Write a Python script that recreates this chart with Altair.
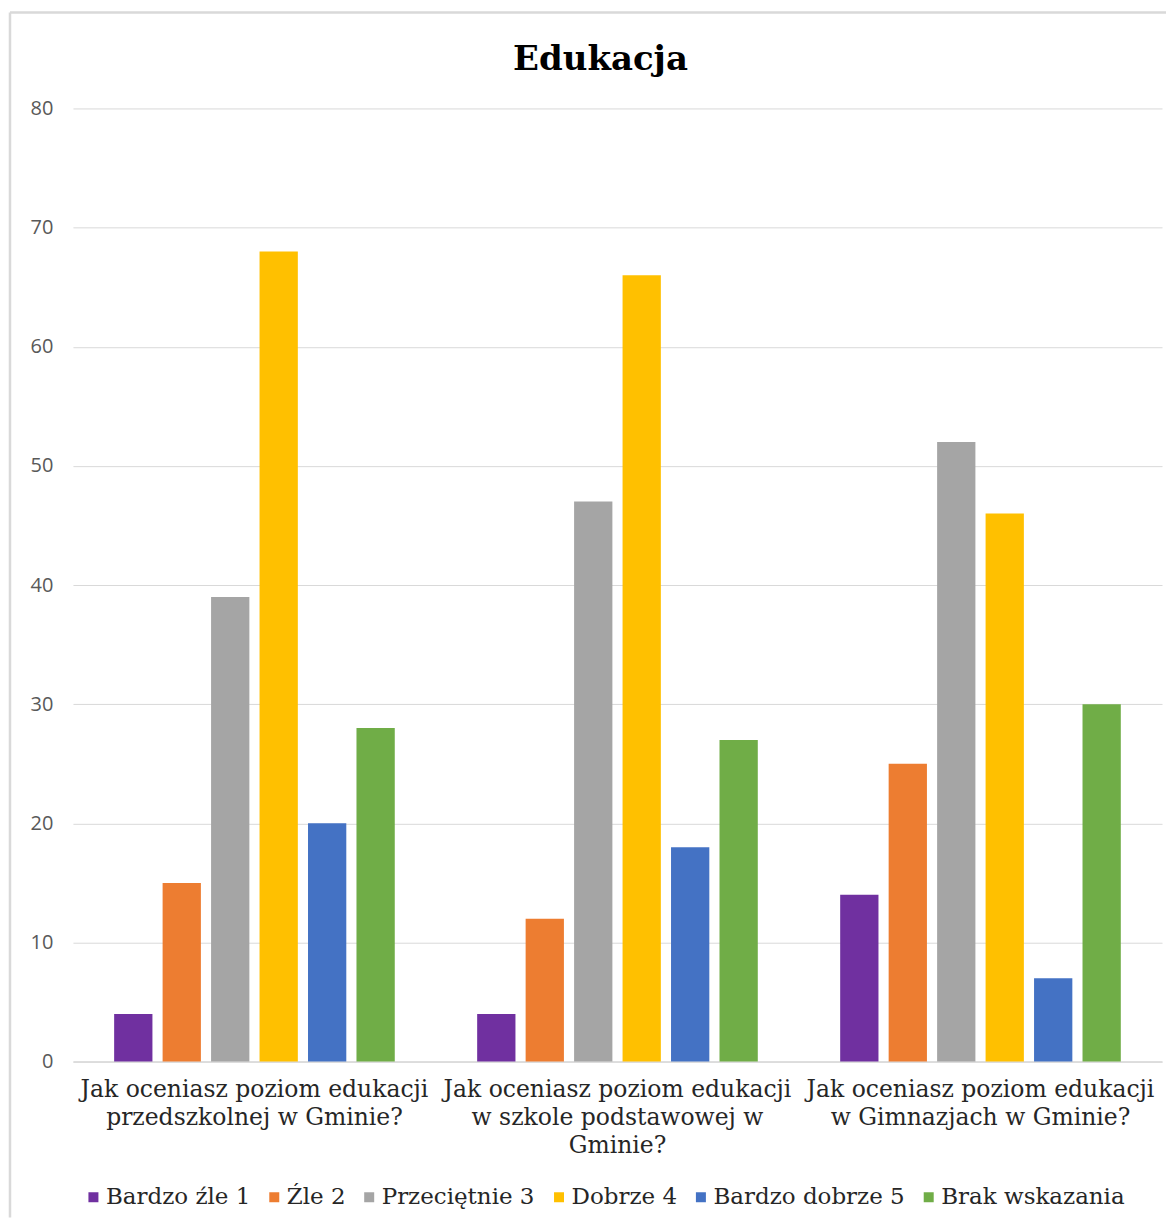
import altair as alt
import pandas as pd

title = "Edukacja"
category_lines = [
    ["Jak oceniasz poziom edukacji", "przedszkolnej w Gminie?"],
    ["Jak oceniasz poziom edukacji", "w szkole podstawowej w", "Gminie?"],
    ["Jak oceniasz poziom edukacji", "w Gimnazjach w Gminie?"],
]
categories = [" ".join(l) for l in category_lines]
series = ["Bardzo źle 1", "Źle 2", "Przeciętnie 3", "Dobrze 4", "Bardzo dobrze 5", "Brak wskazania"]
colors = ["#7030A0", "#ED7D31", "#A5A5A5", "#FFC000", "#4472C4", "#70AD47"]
values = {
    "Bardzo źle 1": [4, 4, 14],
    "Źle 2": [15, 12, 25],
    "Przeciętnie 3": [39, 47, 52],
    "Dobrze 4": [68, 66, 46],
    "Bardzo dobrze 5": [20, 18, 7],
    "Brak wskazania": [28, 27, 30],
}

rows = []
for s in series:
    for c, v in zip(categories, values[s]):
        rows.append({"category": c, "series": s, "value": v})
df = pd.DataFrame(rows)

label_expr = "datum.label"
for c, lines in reversed(list(zip(categories, category_lines))):
    arr = "[" + ",".join("'" + l + "'" for l in lines) + "]"
    label_expr = f"datum.label == '{c}' ? {arr} : ({label_expr})"

serif = "DejaVu Serif"
W, H = 1090, 954

bars = alt.Chart(df).mark_bar().encode(
    x=alt.X("category:N", sort=categories, title=None,
            scale=alt.Scale(paddingInner=0, paddingOuter=0),
            axis=alt.Axis(labelAngle=0, labelExpr=label_expr, labelFont=serif,
                          labelFontSize=23.5, labelColor="#262626", labelPadding=16,
                          labelLineHeight=28, ticks=False, domain=True,
                          domainColor="#D9D9D9", domainWidth=1.5, labelLimit=500)),
    xOffset=alt.XOffset("series:N", sort=series,
                        scale=alt.Scale(paddingInner=0.21, paddingOuter=0.85)),
    y=alt.Y("value:Q", title=None,
            scale=alt.Scale(domain=[0, 80]),
            axis=alt.Axis(values=list(range(0, 81, 10)), grid=True, gridColor="#D9D9D9",
                          domain=False, ticks=False, labelFont="Open Sans",
                          labelFontSize=20, labelColor="#595959", labelPadding=20)),
    color=alt.Color("series:N", sort=series,
                    scale=alt.Scale(domain=series, range=colors),
                    legend=alt.Legend(orient="none", legendX=9, legendY=H + 124,
                                      direction="horizontal", title=None,
                                      columns=6, symbolType="square", symbolSize=100,
                                      symbolStrokeWidth=0, labelFont=serif, labelFontSize=23,
                                      labelColor="#262626", columnPadding=12, labelLimit=400,
                                      symbolOffset=0, labelOffset=1, padding=0)),
)

# outer chart frame (decoration)
frame_left = alt.Chart(pd.DataFrame({"k": [0]})).mark_rule(color="#D9D9D9", strokeWidth=2.5).encode(
    x=alt.value(-63), y=alt.value(-96), y2=alt.value(H + 156))
frame_top = alt.Chart(pd.DataFrame({"k": [0]})).mark_rule(color="#D9D9D9", strokeWidth=2.5).encode(
    x=alt.value(-63), x2=alt.value(W + 4), y=alt.value(-96))

chart = alt.layer(frame_left, frame_top, bars).properties(
    width=W,
    height=H,
    title=alt.TitleParams(title, font=serif, fontSize=34, fontWeight="bold",
                          color="#000000", anchor="middle", offset=-66, dx=-17),
).configure_view(stroke=None).properties(
    padding={"left": 0, "top": 2, "right": 0, "bottom": 0}
)

chart.save("out.html", embed_options={"renderer": "svg", "actions": False})
